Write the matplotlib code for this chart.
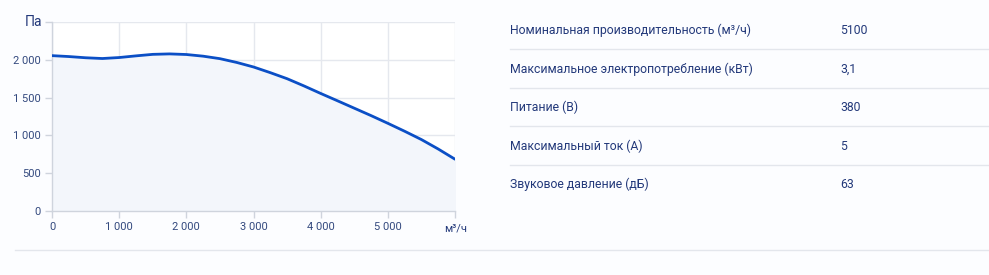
import matplotlib
matplotlib.use("Agg")
import matplotlib.pyplot as plt
from matplotlib.lines import Line2D
from matplotlib.ticker import FuncFormatter

# ---- data ----
flow = [0, 250, 500, 750, 1000, 1250, 1500, 1750, 2000, 2250, 2500, 2750, 3000,
        3250, 3500, 3750, 4000, 4250, 4500, 4750, 5000, 5250, 5500, 5750, 6000]
pressure = [2055, 2043, 2027, 2017, 2030, 2052, 2072, 2078, 2070, 2048, 2015, 1965, 1905,
            1830, 1750, 1655, 1555, 1458, 1360, 1262, 1160, 1055, 945, 820, 685]
x_ticks = [0, 1000, 2000, 3000, 4000, 5000, 6000]
y_ticks = [0, 500, 1000, 1500, 2000, 2500]
spec_labels = ["Номинальная производительность (м³/ч)",
               "Максимальное электропотребление (кВт)",
               "Питание (В)",
               "Максимальный ток (А)",
               "Звуковое давление (дБ)"]
spec_values = ["5100", "3,1", "380", "5", "63"]

plt.rcParams['font.family'] = ['Roboto', 'DejaVu Sans']

W, H = 989, 275
fig = plt.figure(figsize=(W / 100, H / 100), dpi=100)
fig.patch.set_facecolor('#fcfdff')

text_col = '#23397a'
tick_col = '#33497e'
grid_col = '#e5e8ee'
axis_col = '#cfd4dd'

x0, x1, y0, y1 = 52, 455, 211, 22
ax = fig.add_axes([x0 / W, 1 - y0 / H, (x1 - x0) / W, (y0 - y1) / H])
ax.set_facecolor('#ffffff')
ax.fill_between(flow, pressure, 0, color='#f3f6fb', zorder=1)
ax.plot(flow, pressure, color='#0b4fc6', lw=2.0, zorder=3, solid_capstyle='round')
ax.set_xlim(0, 6000)
ax.set_ylim(0, 2500)
ax.set_xticks(x_ticks)
ax.set_yticks(y_ticks)

ax.xaxis.set_major_formatter(FuncFormatter(lambda v, p: '' if v >= 6000 else f"{int(v):,}".replace(',', ' ')))
ax.yaxis.set_major_formatter(FuncFormatter(lambda v, p: '' if v >= 2500 else f"{int(v):,}".replace(',', ' ')))
ax.grid(True, color=grid_col, lw=1.0, zorder=0)
ax.set_axisbelow(True)
for s in ['top', 'right']:
    ax.spines[s].set_visible(False)
for s in ['left', 'bottom']:
    ax.spines[s].set_color(axis_col)
    ax.spines[s].set_linewidth(1.0)
ax.tick_params(axis='both', colors=axis_col, labelcolor=tick_col, labelsize=8, length=5, width=1)
ax.tick_params(axis='x', pad=3)
ax.tick_params(axis='y', pad=3)

fig.text(33 / W, 1 - 22 / H, "Па", color=text_col, fontsize=10, ha='center', va='center')
fig.text(456 / W, 1 - 228 / H, "м³/ч", color=text_col, fontsize=8, ha='center', va='center')

# ---- spec table ----
row_y = [30, 69, 107, 146, 184]
sep_y = [49, 88, 126, 165]
for lab, val, yy in zip(spec_labels, spec_values, row_y):
    fig.text(510 / W, 1 - yy / H, lab, color=text_col, fontsize=8.8, ha='left', va='center')
    fig.text(840 / W, 1 - yy / H, val, color=text_col, fontsize=8.8, ha='left', va='center')
for yy in sep_y:
    fig.add_artist(Line2D([510 / W, 1], [1 - yy / H, 1 - yy / H], transform=fig.transFigure,
                          color='#e3e6ec', lw=1))
fig.add_artist(Line2D([15 / W, 1], [1 - 250 / H, 1 - 250 / H], transform=fig.transFigure,
                      color='#e3e6ec', lw=1))

fig.savefig('out.png', dpi=100, facecolor=fig.get_facecolor())
